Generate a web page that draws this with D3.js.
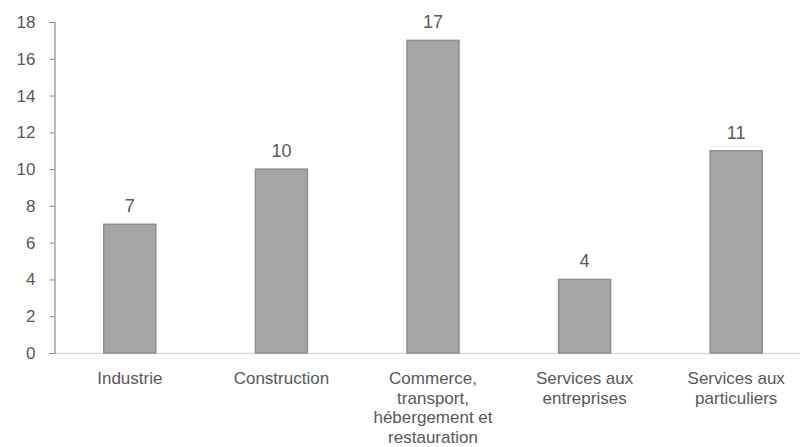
<!DOCTYPE html>
<html>
<head>
<meta charset="utf-8">
<script src="https://cdn.jsdelivr.net/npm/d3@7"></script>
<style>
  body { margin: 0; background: #fff; }
  text { font-family: "Liberation Sans", Arial, sans-serif; fill: #595959; }
</style>
</head>
<body>
<div class="chart"></div>
<script>
// categories (already split into lines as in the original)
const categories = [
  ["Industrie"],
  ["Construction"],
  ["Commerce,", "transport,", "hébergement et", "restauration"],
  ["Services aux", "entreprises"],
  ["Services aux", "particuliers"],
];
const values = [7, 10, 17, 4, 11];
const yTicks = [0, 2, 4, 6, 8, 10, 12, 14, 16, 18];

const width = 800;
const height = 447;

const svg = d3
  .select(".chart")
  .append("svg")
  .attr("width", width)
  .attr("height", height);

const x = d3
  .scaleBand()
  .domain(d3.range(categories.length))
  .range([54, 812])
  .paddingInner(0.657)
  .paddingOuter(0.3285);

const y = d3.scaleLinear().domain([0, 18]).range([353, 22]);

// x baseline
svg
  .append("line")
  .attr("x1", 54)
  .attr("x2", width)
  .attr("y1", y(0) + 0.5)
  .attr("y2", y(0) + 0.5)
  .attr("stroke", "#d9d9d9")
  .attr("stroke-width", 1.5);

// bars
svg
  .append("g")
  .selectAll("rect")
  .data(values)
  .enter()
  .append("rect")
  .attr("x", (d, i) => x(i))
  .attr("y", (d) => y(d))
  .attr("width", x.bandwidth())
  .attr("height", (d) => y(0) - y(d))
  .attr("fill", "#a5a5a5")
  .attr("stroke", "#8f8f8f")
  .attr("stroke-width", 1.5);

// value labels
svg
  .append("g")
  .selectAll("text")
  .data(values)
  .enter()
  .append("text")
  .attr("x", (d, i) => x(i) + x.bandwidth() / 2)
  .attr("y", (d) => y(d) - 12)
  .attr("text-anchor", "middle")
  .attr("font-size", "18px")
  .text((d) => d);

// y axis
const yAxis = svg
  .append("g")
  .attr("transform", "translate(54.5,0)")
  .call(d3.axisLeft(y).tickValues(yTicks).tickSize(5).tickPadding(14));

yAxis.select(".domain").attr("stroke", "#8c8c8c").attr("stroke-width", 1.2);
yAxis.selectAll(".tick line").attr("stroke", "#8c8c8c");
yAxis
  .selectAll(".tick text")
  .attr("font-size", "17px")
  .attr("font-family", "Liberation Sans, Arial, sans-serif")
  .attr("fill", "#595959");

// category labels
const catLabel = svg
  .append("g")
  .selectAll("text")
  .data(categories)
  .enter()
  .append("text")
  .attr("text-anchor", "middle")
  .attr("font-size", "17px")
  .attr("transform", (d, i) => `translate(${x(i) + x.bandwidth() / 2},384)`);

catLabel
  .selectAll("tspan")
  .data((d) => d)
  .enter()
  .append("tspan")
  .attr("x", 0)
  .attr("dy", (d, j) => (j === 0 ? 0 : 19.5))
  .text((d) => d);
</script>
</body>
</html>
